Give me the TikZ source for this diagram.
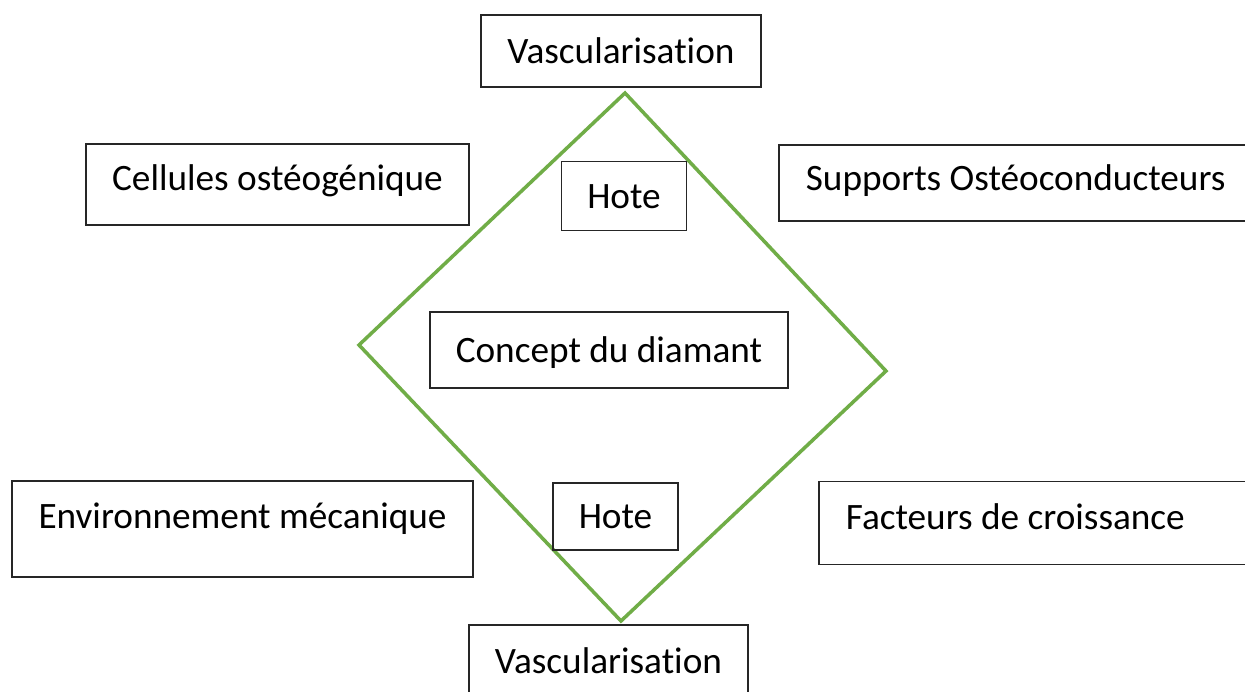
\documentclass[tikz,border=0pt]{standalone}
\usepackage{fontspec}
\setmainfont[Ligatures=NoCommon]{Carlito}
\definecolor{diamgreen}{RGB}{112,173,71}
\begin{document}
\begin{tikzpicture}[x=0.02cm,y=-0.02cm,
 box/.style={draw=black!85,line width=1pt,inner sep=0pt,font=\fontsize{21.2}{25}\selectfont,text height=13.7pt,text depth=0pt},
 leftbox/.style={box,align=flush left,inner xsep=0.54cm}]
 \path[use as bounding box,clip](0,0) rectangle (1245,691);
 \fill[white](0,0) rectangle (1245,691);
 % le diamant
 \coordinate (dtop) at (625,93);
 \coordinate (dleft) at (359,345);
 \coordinate (dright) at (886,371);
 \coordinate (dbot) at (621,621);
 \draw[diamgreen,line width=2pt,line join=miter](dtop)--(dright)--(dbot)--(dleft)--cycle;
 % les boites
 \node[box,minimum width=5.6cm,minimum height=1.44cm] (vtop) at (621,51) {Vascularisation};
 \node[box,minimum width=7.66cm,minimum height=1.62cm,text depth=0.24cm] (cell) at (277.5,184.5) {Cellules ostéogénique};
 \node[leftbox,text width=8.56cm,minimum height=1.52cm,text depth=0.2cm,anchor=west] (supp) at (778,183) {Supports Ostéoconducteurs};
 \node[box,minimum width=2.5cm,minimum height=1.38cm] (hote1) at (624,196) {Hote};
 \node[box,minimum width=7.16cm,minimum height=1.52cm] (concept) at (609,350) {Concept du diamant};
 \node[box,minimum width=9.22cm,minimum height=1.92cm,text depth=0.52cm] (env) at (242.5,529) {Environnement mécanique};
 \node[leftbox,text width=7.76cm,minimum height=1.66cm,text depth=0.24cm,anchor=west] (fact) at (818,523) {Facteurs de croissance};
 \node[box,minimum width=2.5cm,minimum height=1.34cm] (hote2) at (615.5,516.5) {Hote};
 \node[box,minimum width=5.58cm,minimum height=1.44cm] (vbot) at (608.5,661) {Vascularisation};
\end{tikzpicture}
\end{document}
